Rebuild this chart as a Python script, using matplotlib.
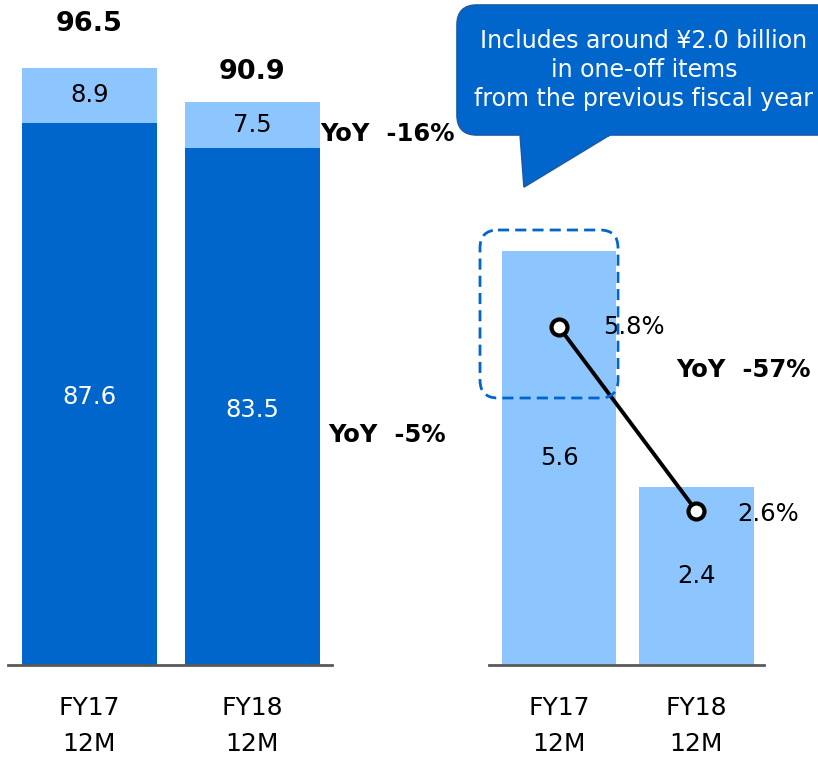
import matplotlib
matplotlib.use("Agg")
import matplotlib.pyplot as plt
from matplotlib.patches import FancyBboxPatch, Polygon

# ---- data ----
categories = ["FY17\n12M", "FY18\n12M"]
base_vals = [87.6, 83.5]          # left chart, lower (dark) segment
top_vals = [8.9, 7.5]             # left chart, upper (light) segment
totals = [96.5, 90.9]
profit_vals = [5.6, 2.4]          # right chart bars
margin_vals = [5.8, 2.6]          # right chart line (%)
yoy_top = "YoY  -16%"
yoy_base = "YoY  -5%"
yoy_right = "YoY  -57%"
note = "Includes around ¥2.0 billion\nin one-off items\nfrom the previous fiscal year"

DARK = "#0066CC"
LIGHT = "#8DC6FF"
AXC = "#595959"
W, H = 818, 761

plt.rcParams["font.family"] = ["DejaVu Sans"]
fig = plt.figure(figsize=(W / 100, H / 100), dpi=100)


def frac(x0, x1, ybase):
    # pixel box -> figure fraction, axes from ybase up to the top of the figure
    return [x0 / W, (H - ybase) / H, (x1 - x0) / W, ybase / H]


# ---- left chart: stacked bars ----
ax = fig.add_axes(frac(8, 332, 665))
x = range(len(categories))
ax.bar(x, base_vals, width=0.83, color=DARK, zorder=2)
ax.bar(x, top_vals, bottom=base_vals, width=0.83, color=LIGHT, zorder=2)
ax.set_xlim(-0.5, 1.488)
ax.set_ylim(0, 665 / 6.187)
for i in x:
    ax.annotate(f"{base_vals[i]}", (i, base_vals[i] / 2), xytext=(0, -3),
                textcoords="offset pixels", color="white", fontsize=17.5,
                ha="center", va="center")
    ax.text(i, base_vals[i] + top_vals[i] / 2, f"{top_vals[i]}", color="black",
            fontsize=17.5, ha="center", va="center")
tot_off = [44, 31]
for i in x:
    ax.annotate(f"{totals[i]}", (i, totals[i]), xytext=(0, tot_off[i]),
                textcoords="offset pixels", ha="center", va="center",
                fontsize=19.5, fontweight="bold")
ax.text(1.414, 85.8, yoy_top, fontsize=17.5, fontweight="bold", ha="left", va="center")
ax.text(1.463, 37.2, yoy_base, fontsize=17.5, fontweight="bold", ha="left", va="center")

# ---- right chart: bars + margin line ----
ax2 = fig.add_axes(frac(489, 764, 665))
ax2.bar(x, profit_vals, width=0.83, color=LIGHT, zorder=2)
ax2.set_xlim(-0.509, 1.491)
ax2.set_ylim(0, 665 / 74.0)
for i in x:
    ax2.text(i, profit_vals[i] / 2, f"{profit_vals[i]}", fontsize=17.5,
             ha="center", va="center")
ax2.text(0.851, 3.99, yoy_right, fontsize=17.5, fontweight="bold", ha="left", va="center")

tw = ax2.twinx()
tw.set_ylim(-0.078, -0.078 + 665 / 57.5)
tw.plot(list(x), margin_vals, color="black", lw=2.8, marker="o", ms=11.5,
        mfc="white", mec="black", mew=3, zorder=5)
lab_dx = [0.32, 1.295]
lab_dy = [0, -3]
for i in x:
    tw.annotate(f"{margin_vals[i]}%", (lab_dx[i], margin_vals[i]), xytext=(0, lab_dy[i]),
                textcoords="offset pixels", fontsize=17.5, ha="left", va="center")

for a in (ax, ax2, tw):
    for s in ("top", "right", "left"):
        a.spines[s].set_visible(False)
    a.set_yticks([])
    a.patch.set_alpha(0)
tw.spines["bottom"].set_visible(False)
for a in (ax, ax2):
    a.spines["bottom"].set_color(AXC)
    a.spines["bottom"].set_linewidth(2)
    a.set_xticks(list(x))
    a.set_xticklabels(categories, fontsize=18, linespacing=1.66)
    a.tick_params(axis="x", length=0, pad=22)

# ---- overlay: callout bubble and dashed highlight ----
ov = fig.add_axes([0, 0, 1, 1], zorder=10)
ov.set_xlim(0, W)
ov.set_ylim(H, 0)
ov.axis("off")
ov.patch.set_alpha(0)

ov.add_patch(FancyBboxPatch((480, 230), 138, 168, boxstyle="round,pad=0,rounding_size=18",
                            fill=False, ec=DARK, lw=2, ls=(0, (4, 2.2))))

EDGE = "#1A5AA8"
ov.add_patch(Polygon([(520, 133), (524, 187), (613, 133)], closed=True,
                     fc=DARK, ec=EDGE, lw=1.2, zorder=1))
ov.add_patch(FancyBboxPatch((457, 5), 380, 130, boxstyle="round,pad=0,rounding_size=20",
                            fc=DARK, ec=EDGE, lw=1.2, zorder=2))
ov.add_patch(Polygon([(521.5, 131), (522, 137), (609, 137), (609, 131)], closed=True,
                     fc=DARK, ec="none", zorder=3))
ov.text(644, 70, note, color="white", fontsize=17, ha="center", va="center",
        linespacing=1.25, zorder=4)

fig.savefig("out.png", dpi=100)
